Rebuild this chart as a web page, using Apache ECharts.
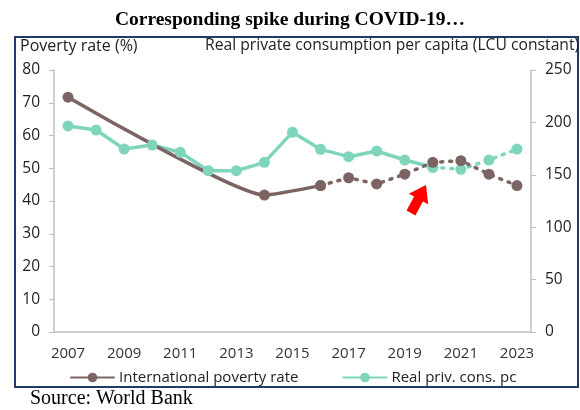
<!DOCTYPE html>
<html>
<head>
<meta charset="utf-8">
<script src="https://cdn.jsdelivr.net/npm/echarts@6/dist/echarts.min.js"></script>
<style>
  html, body { margin: 0; padding: 0; background: #fff; }
  #chart { width: 580px; height: 410px; }
</style>
</head>
<body>
<div id="chart"></div>
<script>
  // years on the x axis
  var years = ['2007', '2008', '2009', '2010', '2011', '2012', '2013', '2014', '2015',
               '2016', '2017', '2018', '2019', '2020', '2021', '2022', '2023'];
  // international poverty rate (%), left axis; gaps where no survey
  var povertyRate = [71.7, null, null, null, null, null, null, 41.8, null,
                     44.7, 47.1, 45.2, 48.2, 51.8, 52.3, 48.2, 44.7];
  // real private consumption per capita (LCU constant), right axis
  var privCons = [196.6, 192.7, 174.6, 178.4, 171.5, 153.9, 153.9, 161.9, 190.7,
                  174.3, 167.3, 172.7, 164.1, 157.2, 155.2, 164.1, 174.6];
  var leftTicks = { min: 0, max: 80, interval: 10 };
  var rightTicks = { min: 0, max: 250, interval: 50 };
  // estimates start here (dotted part)
  var povEstimateFrom = 2016;
  var consEstimateFrom = 2020;

  var brown = '#7b6462';
  var teal = '#7fd5bb';
  var sans = 'Open Sans';

  var povSolid = povertyRate.map(function (v, i) { return +years[i] <= povEstimateFrom ? v : null; });
  var povDotted = povertyRate.map(function (v, i) { return +years[i] >= povEstimateFrom ? v : null; });
  var consSolid = privCons.map(function (v, i) { return +years[i] <= consEstimateFrom ? v : null; });
  var consDotted = privCons.map(function (v, i) { return +years[i] >= consEstimateFrom ? v : null; });

  var chart = echarts.init(document.getElementById('chart'), null, { renderer: 'canvas' });

  function lineSeries(name, data, color, yIndex, dotted, smooth) {
    return {
      name: name,
      type: 'line',
      yAxisIndex: yIndex,
      data: data,
      connectNulls: true,
      smooth: smooth || false,
      symbol: 'circle',
      symbolSize: 11,
      itemStyle: { color: color },
      lineStyle: {
        color: color,
        width: 3.5,
        type: dotted ? [2, 7] : 'solid',
        cap: 'round'
      },
      emphasis: { disabled: true }
    };
  }

  var option = {
    animation: false,
    title: {
      text: 'Corresponding spike during COVID-19…',
      left: 'center',
      top: 5,
      textStyle: { fontFamily: 'Liberation Serif', fontWeight: 'bold', fontSize: 19.5, color: '#000' }
    },
    grid: { left: 54, right: 49, top: 70, bottom: 78 },
    legend: {
      data: ['International poverty rate', 'Real priv. cons. pc'],
      left: 65,
      top: 365,
      itemWidth: 43,
      itemHeight: 12,
      itemGap: 44,
      textStyle: { fontFamily: sans, fontSize: 15, color: '#222' }
    },
    xAxis: {
      type: 'category',
      data: years,
      axisLine: { lineStyle: { color: '#bfbfbf', width: 1.5 } },
      axisTick: { inside: true, length: 4, interval: 0, lineStyle: { color: '#bfbfbf' } },
      axisLabel: { interval: 1, margin: 14, fontFamily: sans, fontSize: 15, color: '#333' }
    },
    yAxis: [
      {
        type: 'value',
        min: leftTicks.min, max: leftTicks.max, interval: leftTicks.interval,
        splitLine: { show: false },
        axisLine: { show: true, lineStyle: { color: '#bfbfbf', width: 1.5 } },
        axisTick: { show: true, length: 5, lineStyle: { color: '#bfbfbf' } },
        axisLabel: { margin: 14, fontFamily: sans, fontSize: 15.5, color: '#222' }
      },
      {
        type: 'value',
        min: rightTicks.min, max: rightTicks.max, interval: rightTicks.interval,
        splitLine: { show: false },
        axisLine: { show: true, lineStyle: { color: '#bfbfbf', width: 1.5 } },
        axisTick: { show: true, length: 5, lineStyle: { color: '#bfbfbf' } },
        axisLabel: { margin: 14, fontFamily: sans, fontSize: 15.5, color: '#222' }
      }
    ],
    series: [
      lineSeries('Real priv. cons. pc', consSolid, teal, 1, false),
      lineSeries('cons-est', consDotted, teal, 1, true),
      lineSeries('International poverty rate', povSolid, brown, 0, false, 0.14),
      lineSeries('pov-est', povDotted, brown, 0, true)
    ],
    graphic: [
      {
        type: 'rect',
        shape: { x: 15, y: 37, width: 563, height: 350 },
        style: { fill: 'none', stroke: '#1f3a6d', lineWidth: 2 },
        silent: true
      },
      {
        type: 'text', left: 20, top: 38,
        style: { text: 'Poverty rate (%)', font: '16px "Open Sans"', fill: '#222' }
      },
      {
        type: 'text', left: 205, top: 38,
        style: { text: 'Real private consumption per capita (LCU constant)', font: '15.7px "Open Sans"', fill: '#222' }
      },
      {
        type: 'polygon',
        shape: { points: [[426, 185], [408.8, 193.8], [414.1, 196.6], [406.6, 210.6],
                          [415.4, 215.4], [422.9, 201.4], [428.2, 204.2]] },
        style: { fill: '#ff0000' },
        z: 10
      },
      {
        type: 'text', left: 30, top: 389,
        style: { text: 'Source: World Bank', font: '20px "Liberation Serif"', fill: '#000' }
      }
    ]
  };

  chart.setOption(option);
</script>
</body>
</html>
